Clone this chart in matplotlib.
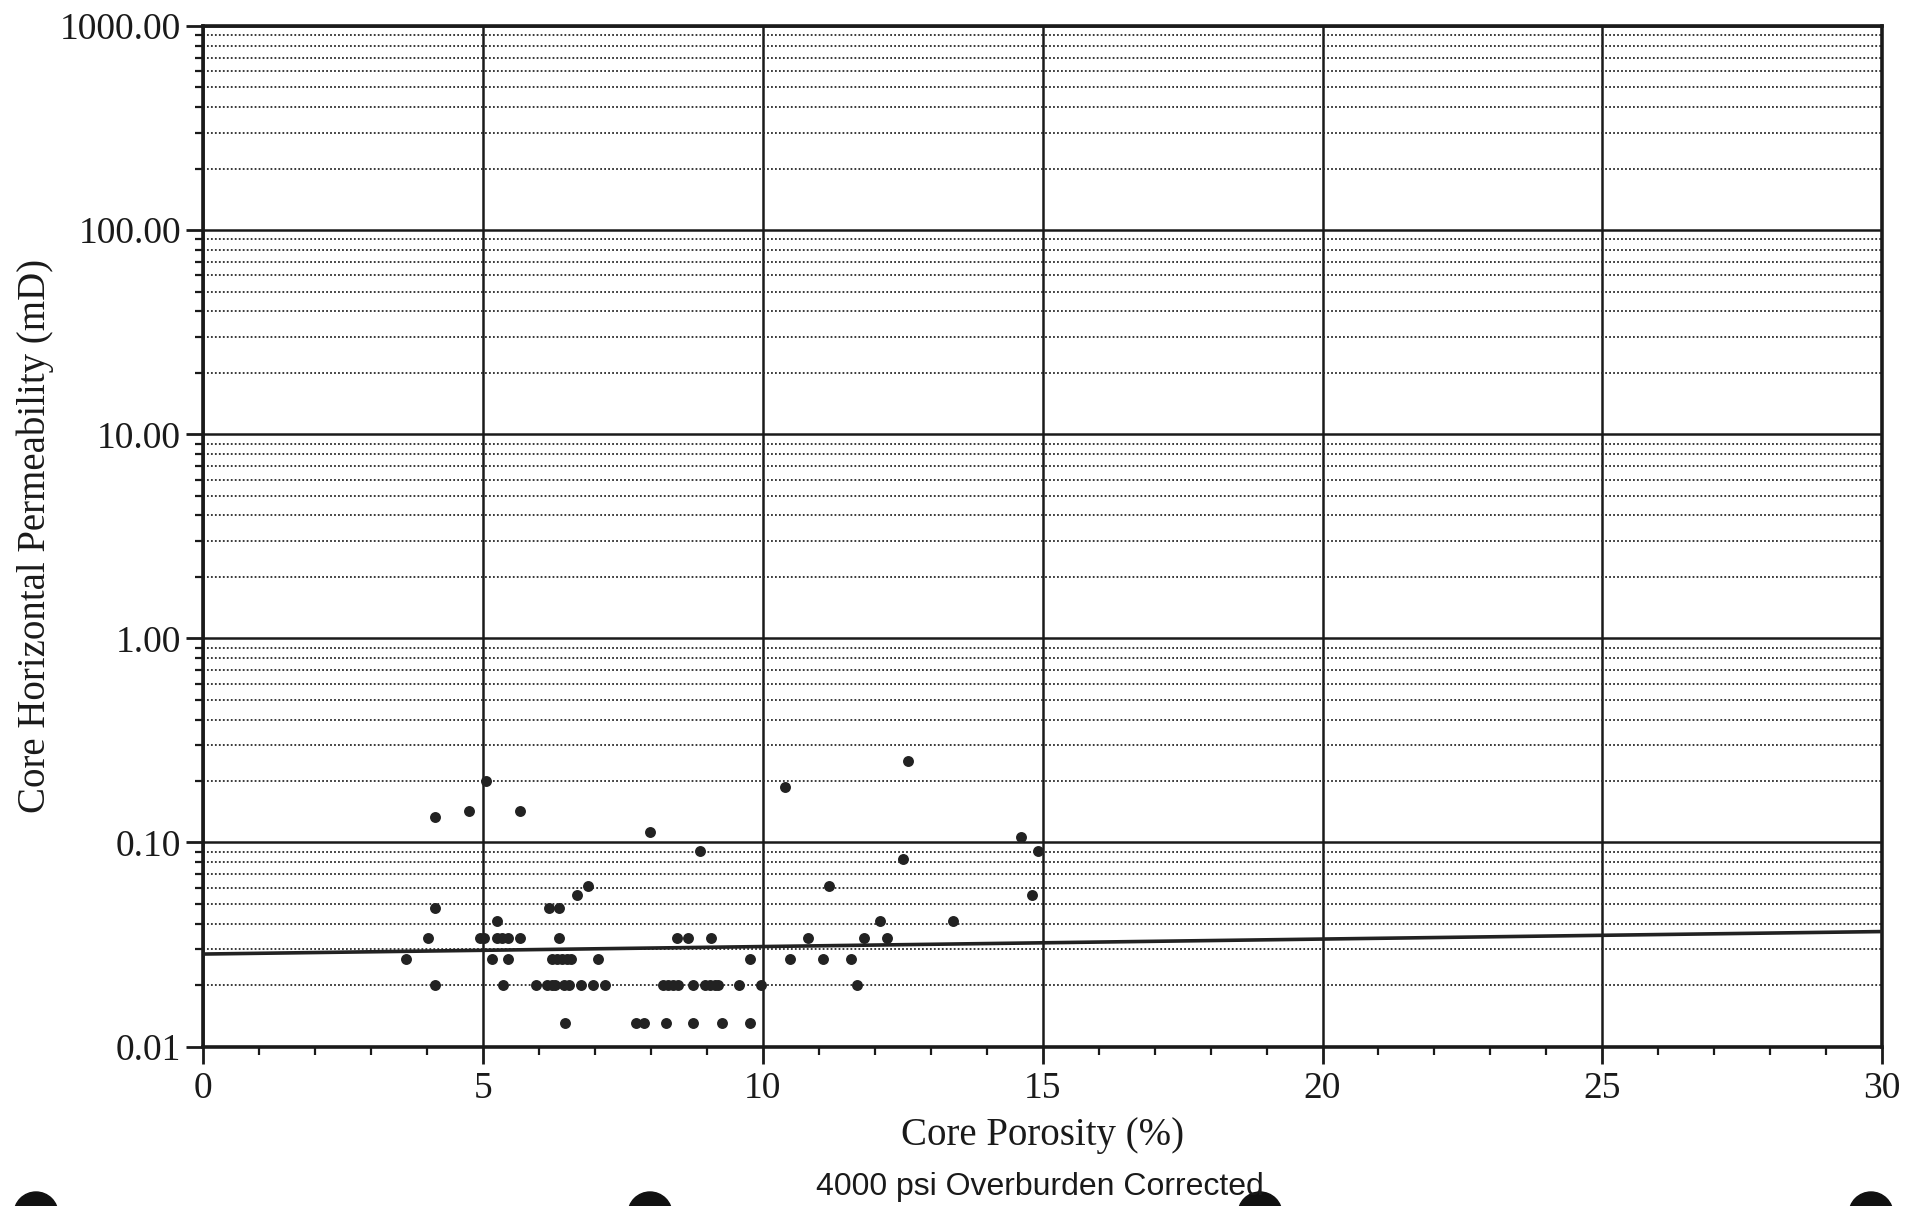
import numpy as np
import matplotlib.pyplot as plt
from matplotlib.patches import Ellipse
from matplotlib.ticker import FixedLocator, LogLocator, NullFormatter

# core data
porosity = [3.62, 4.02, 4.14, 4.14, 4.14, 4.75, 4.95, 5.02, 5.05, 5.16,
            5.25, 5.25, 5.34, 5.35, 5.44, 5.45, 5.66, 5.66, 5.95, 6.14,
            6.17, 6.23, 6.23, 6.29, 6.32, 6.36, 6.36, 6.41, 6.45, 6.47,
            6.50, 6.54, 6.58, 6.68, 6.75, 6.87, 6.97, 7.06, 7.18, 7.74,
            7.87, 7.99, 8.22, 8.26, 8.31, 8.40, 8.46, 8.48, 8.67, 8.76,
            8.76, 8.88, 8.97, 9.06, 9.07, 9.15, 9.20, 9.27, 9.57, 9.77,
            9.77, 9.97, 10.39, 10.49, 10.80, 11.07, 11.18, 11.58, 11.69, 11.80,
            12.10, 12.21, 12.50, 12.60, 13.40, 14.61, 14.81, 14.91]
permeability = [0.027, 0.034, 0.134, 0.048, 0.020, 0.142, 0.034, 0.034, 0.200, 0.027,
                0.041, 0.034, 0.034, 0.020, 0.034, 0.027, 0.142, 0.034, 0.020, 0.020,
                0.048, 0.027, 0.020, 0.020, 0.027, 0.048, 0.034, 0.027, 0.020, 0.013,
                0.027, 0.020, 0.027, 0.055, 0.020, 0.061, 0.020, 0.027, 0.020, 0.013,
                0.013, 0.112, 0.020, 0.013, 0.020, 0.020, 0.034, 0.020, 0.034, 0.020,
                0.013, 0.091, 0.020, 0.020, 0.034, 0.020, 0.020, 0.013, 0.020, 0.027,
                0.013, 0.020, 0.186, 0.027, 0.034, 0.027, 0.061, 0.027, 0.020, 0.034,
                0.041, 0.034, 0.083, 0.251, 0.041, 0.106, 0.055, 0.091]

# exponential trend line end points
trend_x = [0, 30]
trend_y = [0.0284, 0.0366]

y_ticks = [0.01, 0.1, 1, 10, 100, 1000]
y_labels = ["0.01", "0.10", "1.00", "10.00", "100.00", "1000.00"]
x_ticks = [0, 5, 10, 15, 20, 25, 30]

serif = "Liberation Serif"
ink = "#1a1a1a"

fig = plt.figure(figsize=(19.05, 12.06), dpi=100)
ax = fig.add_axes([0.1067, 0.1322, 0.8813, 0.8462])

ax.set_yscale("log")
ax.set_xlim(0, 30)
ax.set_ylim(0.01, 1000)

# grid
ax.yaxis.set_major_locator(FixedLocator(y_ticks))
ax.yaxis.set_minor_locator(LogLocator(base=10, subs=np.arange(2, 10)))
ax.yaxis.set_minor_formatter(NullFormatter())
ax.set_yticklabels(y_labels)
ax.xaxis.set_major_locator(FixedLocator(x_ticks))
ax.xaxis.set_minor_locator(FixedLocator(np.arange(0, 31, 1)))

ax.grid(which="major", axis="both", color=ink, lw=1.8)
ax.grid(which="minor", axis="y", color="#2a2a2a", lw=1.3, linestyle=(0, (1, 1.2)))

ax.scatter(porosity, permeability, s=62, color="#222222", zorder=3, linewidths=0)
ax.plot(trend_x, trend_y, color="#222222", lw=2.6, zorder=3)

for sp in ax.spines.values():
    sp.set_linewidth(2.6)
    sp.set_color(ink)

ax.tick_params(axis="y", which="major", direction="out", length=12, width=2, pad=4,
               labelsize=27, color=ink)
ax.tick_params(axis="y", which="minor", direction="out", length=6, width=1.6, color=ink)
ax.tick_params(axis="x", which="major", direction="out", length=12, width=2, pad=6,
               labelsize=27, color=ink)
ax.tick_params(axis="x", which="minor", direction="out", length=6, width=1.6, color=ink)
for lbl in ax.get_xticklabels() + ax.get_yticklabels():
    lbl.set_fontfamily(serif)
    lbl.set_color(ink)

ax.set_xlabel("Core Porosity (%)", fontfamily=serif, fontsize=28, color=ink, labelpad=8)
ax.set_ylabel("Core Horizontal Permeability (mD)", fontfamily=serif, fontsize=28,
              color=ink, labelpad=4)

fig.text(0.546, 0.016, "4000 psi Overburden Corrected", fontfamily="Liberation Sans",
         fontsize=23, color=ink, ha="center", va="center")

# binder punch holes along the bottom edge of the scan
for hx in [36, 650, 1260, 1871]:
    fig.add_artist(Ellipse((hx / 1905, -8 / 1206), 44 / 1905, 44 / 1206,
                           transform=fig.transFigure, color="#111111"))

fig.savefig("out.png", dpi=100)
